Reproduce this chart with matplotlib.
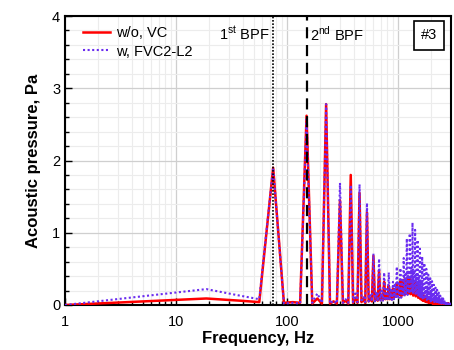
import numpy as np
import matplotlib
matplotlib.use("Agg")
import matplotlib.pyplot as plt
from matplotlib.ticker import FixedLocator, NullFormatter, MultipleLocator

plt.rcParams['font.family'] = ['Liberation Sans', 'DejaVu Sans']
plt.rcParams['mathtext.fontset'] = 'custom'
plt.rcParams['mathtext.rm'] = 'Liberation Sans'

# ---- data ----
bin_width = 18.75  # Hz, FFT resolution
n_bins = 160
freq = np.concatenate([[1.0], bin_width * np.arange(1, n_bins + 1)])

# each row: 4 bins up to harmonic k*75 Hz
red_rows = [
    [0.09, 0.06, 0.04, 1.90],
    [0.03, 0.04, 0.03, 2.62],
    [0.02, 0.09, 0.02, 2.78],
    [0.02, 0.05, 0.02, 1.45],
    [0.03, 0.06, 0.02, 1.80],
    [0.03, 0.10, 0.03, 1.55],
    [0.04, 0.08, 0.03, 1.28],
    [0.05, 0.10, 0.05, 0.68],
    [0.06, 0.12, 0.06, 0.48],
    [0.07, 0.14, 0.07, 0.32],
    [0.08, 0.16, 0.08, 0.27],
    [0.08, 0.18, 0.08, 0.22],
    [0.10, 0.22, 0.12, 0.30],
    [0.12, 0.25, 0.14, 0.33],
    [0.12, 0.26, 0.15, 0.35],
    [0.14, 0.28, 0.16, 0.37],
    [0.15, 0.30, 0.18, 0.38],
    [0.15, 0.30, 0.16, 0.36],
    [0.13, 0.28, 0.15, 0.33],
    [0.12, 0.24, 0.13, 0.28],
    [0.10, 0.20, 0.11, 0.22],
    [0.08, 0.16, 0.08, 0.17],
    [0.06, 0.12, 0.06, 0.13],
    [0.05, 0.10, 0.05, 0.10],
    [0.04, 0.08, 0.04, 0.08],
    [0.03, 0.07, 0.03, 0.07],
    [0.03, 0.06, 0.03, 0.06],
    [0.02, 0.05, 0.02, 0.05],
    [0.02, 0.05, 0.02, 0.05],
    [0.02, 0.04, 0.02, 0.04],
    [0.02, 0.04, 0.02, 0.04],
    [0.01, 0.03, 0.01, 0.03],
    [0.01, 0.03, 0.01, 0.03],
    [0.01, 0.03, 0.01, 0.03],
    [0.01, 0.02, 0.01, 0.02],
    [0.01, 0.02, 0.01, 0.02],
    [0.01, 0.02, 0.01, 0.02],
    [0.01, 0.02, 0.01, 0.02],
    [0.01, 0.01, 0.01, 0.01],
    [0.01, 0.01, 0.01, 0.01],
]
blue_rows = [
    [0.22, 0.13, 0.08, 1.90],
    [0.02, 0.03, 0.02, 2.57],
    [0.03, 0.16, 0.03, 2.78],
    [0.02, 0.06, 0.02, 1.69],
    [0.03, 0.08, 0.03, 1.66],
    [0.04, 0.16, 0.04, 1.67],
    [0.04, 0.12, 0.04, 1.41],
    [0.05, 0.15, 0.05, 0.71],
    [0.05, 0.18, 0.05, 0.64],
    [0.06, 0.20, 0.06, 0.45],
    [0.06, 0.22, 0.06, 0.45],
    [0.07, 0.24, 0.07, 0.32],
    [0.08, 0.30, 0.09, 0.53],
    [0.09, 0.30, 0.10, 0.51],
    [0.10, 0.35, 0.12, 0.65],
    [0.12, 0.42, 0.14, 0.92],
    [0.14, 0.48, 0.16, 0.99],
    [0.16, 0.52, 0.18, 1.14],
    [0.15, 0.48, 0.17, 1.04],
    [0.13, 0.43, 0.15, 0.90],
    [0.12, 0.38, 0.13, 0.78],
    [0.10, 0.33, 0.11, 0.67],
    [0.09, 0.29, 0.10, 0.58],
    [0.08, 0.25, 0.09, 0.50],
    [0.07, 0.22, 0.08, 0.42],
    [0.06, 0.19, 0.07, 0.37],
    [0.05, 0.17, 0.06, 0.33],
    [0.05, 0.14, 0.05, 0.28],
    [0.04, 0.12, 0.05, 0.24],
    [0.04, 0.10, 0.04, 0.21],
    [0.03, 0.09, 0.03, 0.17],
    [0.03, 0.07, 0.03, 0.13],
    [0.02, 0.06, 0.02, 0.11],
    [0.02, 0.05, 0.02, 0.09],
    [0.02, 0.04, 0.02, 0.07],
    [0.01, 0.03, 0.01, 0.05],
    [0.01, 0.03, 0.01, 0.04],
    [0.01, 0.02, 0.01, 0.03],
    [0.01, 0.02, 0.01, 0.03],
    [0.01, 0.02, 0.01, 0.02],
]
red_vals = np.concatenate([[0.0], np.array(red_rows).ravel()])
blue_vals = np.concatenate([[0.0], np.array(blue_rows).ravel()])

bpf1 = 75.0
bpf2 = 150.0
x_ticks = [1, 10, 100, 1000]
y_ticks = [0, 1, 2, 3, 4]

# ---- figure ----
fig = plt.figure(figsize=(4.54, 3.5), dpi=100)
ax = fig.add_axes([65/454, 1-305/350, (451-65)/454, (305-16)/350])

ax.plot(freq, red_vals, color='#ff0000', lw=1.8, label='w/o, VC', zorder=3)
ax.plot(freq, blue_vals, color='#6a2cf0', lw=1.5, ls=(0, (1, 1.2)), label='w, FVC2-L2', zorder=4)

ax.axvline(bpf1, color='black', ls=(0, (1, 1)), lw=1.2, zorder=5)
ax.axvline(bpf2, color='black', ls=(0, (5, 3)), lw=1.6, zorder=5)

ax.set_xscale('log')
ax.set_xlim(1, 3000)
ax.set_ylim(0, 4)
ax.xaxis.set_major_locator(FixedLocator(x_ticks))
ax.set_xticklabels([str(t) for t in x_ticks])
minors = [m * 10**d for d in range(0, 4) for m in range(2, 10) if m * 10**d < 3000]
ax.xaxis.set_minor_locator(FixedLocator(minors))
ax.xaxis.set_minor_formatter(NullFormatter())
ax.yaxis.set_major_locator(FixedLocator(y_ticks))
ax.yaxis.set_minor_locator(MultipleLocator(0.2))

ax.grid(which='major', color='#cfcfcf', lw=0.9, zorder=0)
ax.grid(which='minor', color='#ececec', lw=0.8, zorder=0)
ax.set_axisbelow(True)

ax.tick_params(which='both', direction='in', top=False, right=False, labelsize=10.5)
ax.tick_params(which='major', length=5, width=1)
ax.tick_params(which='minor', length=3, width=1)
ax.tick_params(axis='x', pad=7)
for s in ax.spines.values():
    s.set_linewidth(1.5)
    s.set_color('black')

ax.set_xlabel('Frequency, Hz', fontsize=12, fontweight='bold', labelpad=2)
ax.set_ylabel('Acoustic pressure, Pa', fontsize=12, fontweight='bold', labelpad=8)

ax.text(70, 3.74, '1$^{\\rm st}$ BPF', ha='right', va='center', fontsize=10.5)
ax.text(162, 3.74, '2$^{\\rm nd}$ BPF', ha='left', va='center', fontsize=10.5)
ax.text(0.943, 0.933, '#3', transform=ax.transAxes, ha='center', va='center', fontsize=10.5,
        bbox=dict(boxstyle='square,pad=0.5', fc='white', ec='black', lw=1.2))

leg = ax.legend(loc='upper left', bbox_to_anchor=(0.025, 0.995), frameon=False, fontsize=10.5,
                handlelength=1.8, handletextpad=0.45, labelspacing=0.3, borderaxespad=0.2)

fig.savefig('out.png', dpi=100)
